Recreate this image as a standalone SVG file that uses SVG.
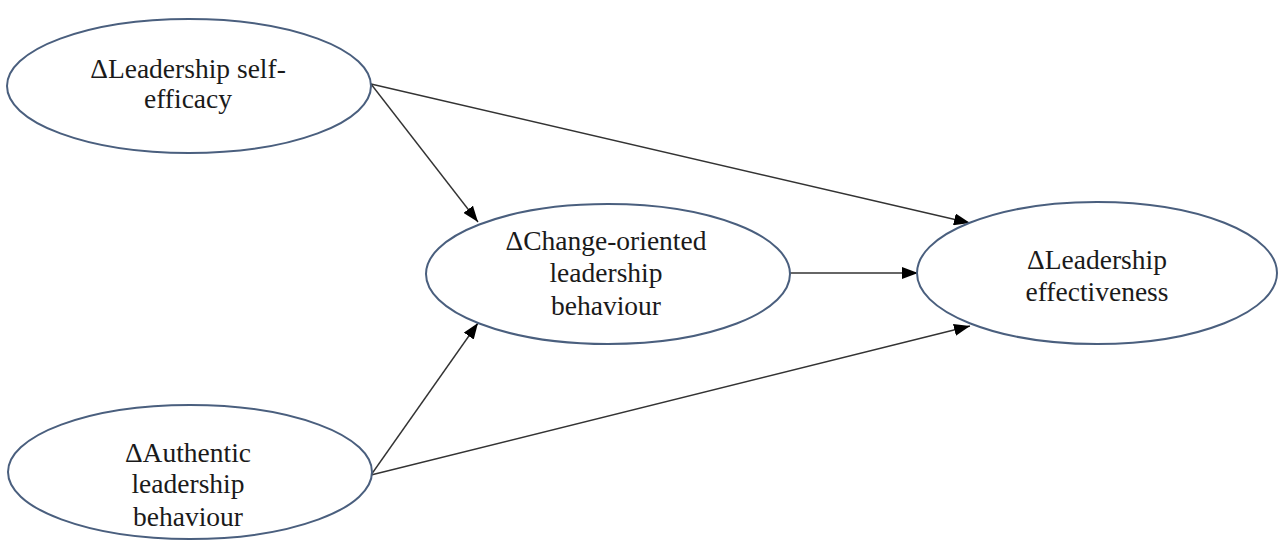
<svg xmlns="http://www.w3.org/2000/svg" width="1279" height="542" viewBox="0 0 1279 542">
<defs>
<marker id="arr" markerUnits="userSpaceOnUse" markerWidth="16" markerHeight="12" viewBox="0 0 16 12" refX="16" refY="6" orient="auto">
<path d="M0,0 L16,6 L0,12 Z" fill="#000"/>
</marker>
<style>
.node ellipse{fill:#fff;stroke:#4a5f7e;stroke-width:2}
.node text{font-family:"Liberation Serif","Times New Roman",serif;font-size:27.5px;fill:#1a1a1a;text-anchor:middle}
.edge{stroke:#333;stroke-width:1.4;fill:none;marker-end:url(#arr)}
</style>
</defs>
<rect width="1279" height="542" fill="#fff"/>
<g id="connectors">
<line class="edge" x1="371" y1="84" x2="478" y2="222"/>
<line class="edge" x1="371" y1="84" x2="970" y2="223"/>
<line class="edge" x1="371" y1="475" x2="478" y2="323"/>
<line class="edge" x1="371" y1="475" x2="970" y2="326"/>
<line class="edge" x1="787" y1="273" x2="918" y2="273"/>
</g>
<g id="node-self-efficacy" class="node">
<ellipse cx="189" cy="86" rx="182" ry="67"/>
<text x="188" y="78">ΔLeadership self-</text>
<text x="188" y="108">efficacy</text>
</g>
<g id="node-change-oriented" class="node">
<ellipse cx="608" cy="274" rx="182" ry="70"/>
<text x="606" y="250">ΔChange-oriented</text>
<text x="606" y="282">leadership</text>
<text x="606" y="315">behaviour</text>
</g>
<g id="node-effectiveness" class="node">
<ellipse cx="1097" cy="273" rx="180" ry="71"/>
<text x="1097" y="269">ΔLeadership</text>
<text x="1097" y="301">effectiveness</text>
</g>
<g id="node-authentic" class="node">
<ellipse cx="190" cy="472" rx="182" ry="67"/>
<text x="188" y="462">ΔAuthentic</text>
<text x="188" y="493">leadership</text>
<text x="188" y="526">behaviour</text>
</g>
</svg>
